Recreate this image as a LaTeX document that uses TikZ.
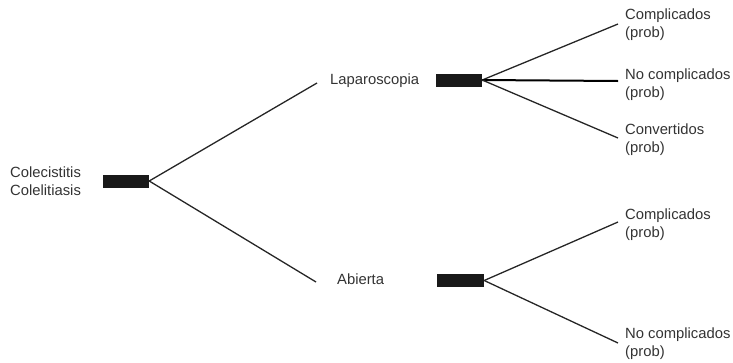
\documentclass[tikz,border=0pt]{standalone}
\usepackage{fontspec}
\setmainfont{Liberation Sans}
\begin{document}
\begin{tikzpicture}[x=1pt,y=-1pt,
  lbl/.style={anchor=west,align=left,inner sep=0pt,text=black!80,
    font=\fontsize{14.8}{18}\selectfont},
  decision/.style={fill=black!90,draw=none,inner sep=0pt,
    minimum width=#1,minimum height=13pt},
  branch/.style={draw=black!85,line width=1.3pt},
  mainbranch/.style={draw=black,line width=2pt}]
\useasboundingbox (0,0) rectangle (733,362);

% decision squares
\node[decision=46pt] (root) at (126,181) {};
\node[decision=46pt] (lap) at (459,80) {};
\node[decision=47pt] (abi) at (460.5,280.5) {};

% first-level labels
\node[lbl] (root-t) at (10,181) {Colecistitis\\Colelitiasis};
\node[lbl] (lap-t) at (330,81) {Laparoscopia};
\node[lbl] (abi-t) at (337,279) {Abierta};

% leaf labels
\node[lbl] (l1) at (625,25) {Complicados\\(prob)};
\node[lbl] (l2) at (625,85) {No complicados\\(prob)};
\node[lbl] (l3) at (625,140) {Convertidos\\(prob)};
\node[lbl] (a1) at (625,225) {Complicados\\(prob)};
\node[lbl] (a2) at (625,344) {No complicados\\(prob)};

% branch ends
\coordinate (e-lap) at (317,83);
\coordinate (e-abi) at (316,282);
\coordinate (e-l1) at (618,24);
\coordinate (e-l2) at (618,81);
\coordinate (e-l3) at (618,138);
\coordinate (e-a1) at (618,222);
\coordinate (e-a2) at (618,343);

\draw[branch] (root.east) -- (e-lap);
\draw[branch] (root.east) -- (e-abi);
\draw[branch] (lap.east) -- (e-l1);
\draw[mainbranch] (lap.east) -- (e-l2);
\draw[branch] (lap.east) -- (e-l3);
\draw[branch] (abi.east) -- (e-a1);
\draw[branch] (abi.east) -- (e-a2);
\end{tikzpicture}
\end{document}
